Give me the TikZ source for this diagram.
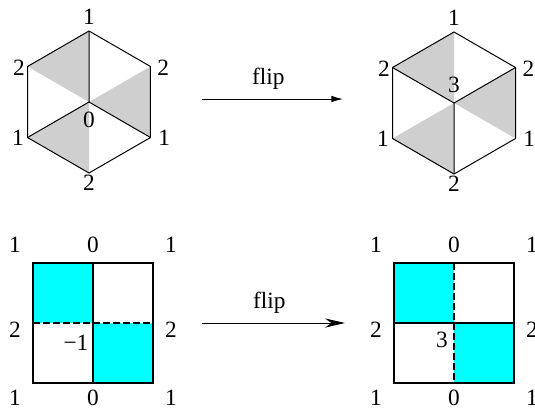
\documentclass[tikz,border=0pt]{standalone}
\usepackage{fontspec}
\setmainfont{Liberation Serif}
\usetikzlibrary{arrows.meta}
\usetikzlibrary{positioning}
\usetikzlibrary{calc}
\definecolor{facecyan}{RGB}{0,255,255}

\begin{document}
\begin{tikzpicture}[x=0.6pt, y=0.6pt, font=\rmfamily\fontsize{14}{16}\selectfont,
    hexline/.style={line width=0.6pt, line join=miter},
    face/.style={fill=black!19},
    sqline/.style={line width=1.2pt},
    cutline/.style={sqline, dash pattern=on 4pt off 2pt},
    vlabel/.style={inner sep=1pt},
    slabel/.style={inner sep=0.5pt}]
\useasboundingbox (0,0) rectangle (535,409);

% hexagon corners
\foreach \c/\x/\y in {h1/89/307, h2/454/306}{
    \coordinate (\c) at (\x,\y);
    \foreach \a/\n in {90/t,150/ul,210/ll,270/b,330/lr,30/ur}
        \coordinate (\c-\n) at ($(\c)+(\a:71)$);
}

% grey faces
\foreach \c in {h1,h2}
    \fill[face] (\c) -- (\c-t) -- (\c-ul) -- cycle
        (\c) -- (\c-ur) -- (\c-lr) -- cycle
        (\c) -- (\c-ll) -- (\c-b) -- cycle;

% outlines and inner edges
\foreach \c in {h1,h2}
    \draw[hexline] (\c-t) -- (\c-ul) -- (\c-ll) -- (\c-b) -- (\c-lr) -- (\c-ur) -- cycle;
\draw[hexline] (h1-t) -- (h1) -- (h1-ll) (h1) -- (h1-lr);
\draw[hexline] (h2-ul) -- (h2) -- (h2-ur) (h2) -- (h2-b);

% corner labels
\foreach \c in {h1,h2}{
    \node[vlabel, above=2.5pt of \c-t] (\c-tl) {1};
    \node[vlabel, left=0.4pt of \c-ul, yshift=-1pt] (\c-ull) {2};
    \node[vlabel, right=3pt of \c-ur, yshift=-1pt] (\c-url) {2};
    \node[vlabel, left=1pt of \c-ll] (\c-lll) {1};
    \node[vlabel, right=3.5pt of \c-lr] (\c-lrl) {1};
    \node[vlabel, below=0pt of \c-b] (\c-bl) {2};
}
\node[vlabel, below=4.5pt of h1] (h1-cl) {0};
\node[vlabel, above=5pt of h2] (h2-cl) {3};

% squares
\foreach \s/\x in {s1/93, s2/454}{
    \coordinate (\s) at (\x,86);
    \coordinate (\s-nw) at ($(\s)+(-60,60)$);
    \coordinate (\s-se) at ($(\s)+(60,-60)$);
    \coordinate (\s-n) at ($(\s)+(0,60)$);
    \coordinate (\s-s) at ($(\s)+(0,-60)$);
    \coordinate (\s-w) at ($(\s)+(-60,0)$);
    \coordinate (\s-e) at ($(\s)+(60,0)$);
    \fill[facecyan] (\s-nw) rectangle (\s) (\s) rectangle (\s-se);
    \draw[sqline] (\s-nw) rectangle (\s-se);
    \foreach \dx/\dy/\t [count=\i] in {-78/78/1, 0/78/0, 78/78/1, -78/-7/2, 78/-7/2, -78/-75/1, 0/-75/0, 78/-75/1}
        \node[slabel] (\s-l\i) at ($(\s)+(\dx,\dy)$) {\t};
}
\draw[sqline] (s1-n) -- (s1-s);
\draw[cutline] (s1-w) -- (s1-e);
\draw[sqline] (s2-w) -- (s2-e);
\draw[cutline] (s2-n) -- (s2-s);
\node (s1-cl) at ($(s1)+(-17,-20)$) {−1};
\node (s2-cl) at ($(s2)+(-12,-17)$) {3};

% arrows
\coordinate (a1) at (202,310);
\coordinate (a2) at (343,310);
\coordinate (b1) at (202,86);
\coordinate (b2) at (345,86);
\draw[line width=0.6pt, -{Latex[length=7pt,width=4pt]}] (a1) -- node[above=2pt, pos=0.47] (fa) {flip} (a2);
\draw[line width=0.6pt, -{Stealth[length=12pt,width=5.5pt]}] (b1) -- node[above=2pt, pos=0.47] (fb) {flip} (b2);
\end{tikzpicture}
\end{document}
